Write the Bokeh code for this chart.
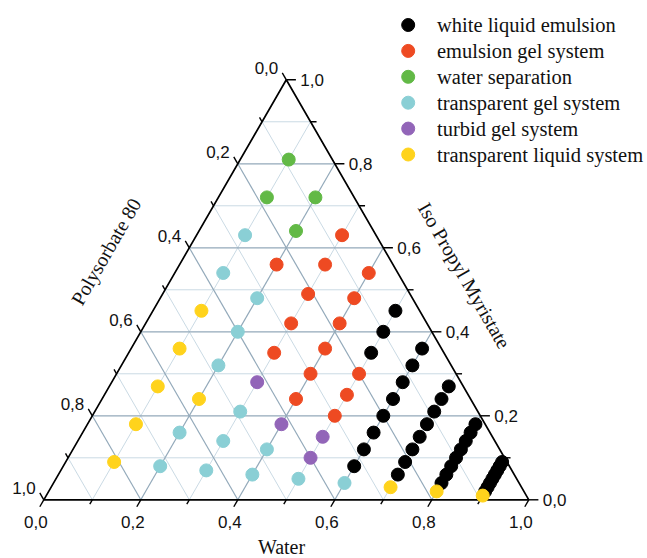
import math
from bokeh.plotting import figure
from bokeh.models import Range1d
from bokeh.embed import file_html
from bokeh.resources import INLINE
from bokeh.core.properties import value

# ---------------- data (fractions; Polysorbate 80 = 1 - Water - IPM) ----------------
white_liquid_emulsion_water = [0.5, 0.5, 0.5,
                               0.6, 0.6, 0.6, 0.6, 0.6, 0.6, 0.6, 0.6,
                               0.7, 0.7, 0.7, 0.7, 0.7, 0.7, 0.7, 0.7,
                               0.8, 0.8, 0.8, 0.8, 0.8, 0.8, 0.8, 0.8,
                               0.9, 0.9, 0.9, 0.9, 0.9, 0.9, 0.9, 0.9]
white_liquid_emulsion_ipm = [0.35, 0.40, 0.45,
                             0.08, 0.12, 0.16, 0.20, 0.24, 0.28, 0.32, 0.36,
                             0.06, 0.09, 0.12, 0.15, 0.18, 0.21, 0.24, 0.27,
                             0.04, 0.06, 0.08, 0.10, 0.12, 0.14, 0.16, 0.18,
                             0.02, 0.03, 0.04, 0.05, 0.06, 0.07, 0.08, 0.09]

emulsion_gel_water = [0.2,
                      0.3, 0.3, 0.3, 0.3, 0.3,
                      0.4, 0.4, 0.4, 0.4, 0.4, 0.4,
                      0.5, 0.5, 0.5]
emulsion_gel_ipm = [0.56,
                    0.35, 0.42, 0.49, 0.56, 0.63,
                    0.24, 0.30, 0.36, 0.42, 0.48, 0.54,
                    0.20, 0.25, 0.30]

water_separation_water = [0.1, 0.1, 0.2, 0.2]
water_separation_ipm = [0.72, 0.81, 0.64, 0.72]

transparent_gel_water = [0.1, 0.1, 0.2, 0.2, 0.2, 0.2, 0.2, 0.3, 0.3, 0.3, 0.4, 0.4, 0.5, 0.6]
transparent_gel_ipm = [0.54, 0.63, 0.08, 0.16, 0.32, 0.40, 0.48, 0.07, 0.14, 0.21, 0.06, 0.12, 0.05, 0.04]

turbid_gel_water = [0.3, 0.4, 0.5, 0.5]
turbid_gel_ipm = [0.28, 0.18, 0.10, 0.15]

transparent_liquid_water = [0.1, 0.1, 0.1, 0.1, 0.1, 0.2, 0.7, 0.8, 0.9]
transparent_liquid_ipm = [0.09, 0.18, 0.27, 0.36, 0.45, 0.24, 0.03, 0.02, 0.01]

series_names = ["white liquid emulsion", "emulsion gel system", "water separation",
                "transparent gel system", "turbid gel system", "transparent liquid system"]
series_colors = ["#000000", "#EE4A22", "#62B946", "#8ACFD5", "#9265B8", "#FFD31C"]
series_water = [white_liquid_emulsion_water, emulsion_gel_water, water_separation_water,
                transparent_gel_water, turbid_gel_water, transparent_liquid_water]
series_ipm = [white_liquid_emulsion_ipm, emulsion_gel_ipm, water_separation_ipm,
              transparent_gel_ipm, turbid_gel_ipm, transparent_liquid_ipm]

major_ticks = [0.0, 0.2, 0.4, 0.6, 0.8, 1.0]
tick_labels = ["0,0", "0,2", "0,4", "0,6", "0,8", "1,0"]
minor_ticks = [0.1, 0.3, 0.5, 0.7, 0.9]
grid_values = [0.1, 0.2, 0.3, 0.4, 0.5, 0.6, 0.7, 0.8, 0.9]

# ---------------- geometry ----------------
S3 = math.sqrt(3) / 2
PX = 485.0  # pixels per unit side
X0, Y0 = 43.3, 499.3  # pixel position of the bottom-left corner
W, H = 647, 558


def tern(w, o):
    return w + o / 2.0, o * S3


def px(n):
    return n / PX


def ref(xp, yp):
    # page pixel -> data coordinates (layout helper)
    return (xp - X0) / PX, (Y0 - yp) / PX


p = figure(width=W, height=H, output_backend="svg", toolbar_location=None,
           x_range=Range1d(-X0 / PX, (W - X0) / PX), y_range=Range1d((Y0 - H) / PX, Y0 / PX),
           x_axis_location=None, y_axis_location=None, min_border=0,
           background_fill_color="white", border_fill_color="white")
p.outline_line_color = None
p.xgrid.visible = False
p.ygrid.visible = False

# grid lines
for major in (False, True):
    xs, ys = [], []
    for v in grid_values:
        is_major = round(v * 10) % 2 == 0
        if is_major != major:
            continue
        for (a, b) in [((v, 0.0), (v, 1 - v)),        # constant water
                       ((0.0, v), (1 - v, v)),        # constant IPM
                       ((0.0, 1 - v), (1 - v, 0.0))]:  # constant polysorbate
            x0, y0 = tern(*a)
            x1, y1 = tern(*b)
            xs.append([x0, x1])
            ys.append([y0, y1])
    p.multi_line(xs, ys, line_color="#93a9ba" if major else "#cadae4",
                 line_width=1.2 if major else 1.0)

# triangle outline
tx = [tern(0, 0)[0], tern(1, 0)[0], tern(0, 1)[0], tern(0, 0)[0]]
ty = [tern(0, 0)[1], tern(1, 0)[1], tern(0, 1)[1], tern(0, 0)[1]]
p.line(tx, ty, line_color="black", line_width=1.7)

# ticks
txs, tys = [], []
for vals, L in ((major_ticks, px(8)), (minor_ticks, px(5))):
    for v in vals:
        # bottom: water
        x0, y0 = tern(v, 0)
        txs.append([x0, x0 - 0.5 * L]); tys.append([y0, y0 - S3 * L])
        # right: IPM
        x0, y0 = tern(1 - v, v)
        txs.append([x0, x0 + L * 1.2]); tys.append([y0, y0])
        # left: polysorbate
        x0, y0 = tern(0, 1 - v)
        txs.append([x0, x0 - 0.5 * L]); tys.append([y0, y0 + S3 * L])
p.multi_line(txs, tys, line_color="black", line_width=1.4)

# data points
for name, col, ws, os_ in zip(series_names, series_colors, series_water, series_ipm):
    xy = [tern(w, o) for w, o in zip(ws, os_)]
    p.scatter([a for a, b in xy], [b for a, b in xy], size=13, marker="circle",
              fill_color=col, line_color=col)

# tick labels
font_sans = value("Liberation Sans")
fs = value("17px")
bx, by, rx, ry, lx, ly = [], [], [], [], [], []
for v in major_ticks:
    x0, y0 = tern(v, 0)
    bx.append(x0 - px(8)); by.append(y0 - px(22))
    x0, y0 = tern(1 - v, v)
    rx.append(x0 + px(14)); ry.append(y0)
    x0, y0 = tern(0, 1 - v)
    lx.append(x0 - px(8)); ly.append(y0 + px(12))
p.text(bx, by, text=tick_labels, text_font=font_sans, text_font_size=fs,
       text_align="center", text_baseline="middle", text_color="#111111")
p.text(rx, ry, text=tick_labels, text_font=font_sans, text_font_size=fs,
       text_align="left", text_baseline="middle", text_color="#111111")
p.text(lx, ly, text=tick_labels, text_font=font_sans, text_font_size=fs,
       text_align="right", text_baseline="middle", text_color="#111111")

# axis titles
font_serif = value("Liberation Serif")
wx, wy = ref(281, 546)
p.text([wx], [wy], text=["Water"], text_font=font_serif, text_font_size=value("20px"),
       text_align="center", text_baseline="middle", text_color="#111111")
ax, ay = ref(105.5, 251)
p.text([ax], [ay], text=["Polysorbate 80"], angle=math.pi / 3, text_font=font_serif,
       text_font_size=value("20px"), text_align="center", text_baseline="middle",
       text_color="#111111")
ix, iy = ref(464, 275)
p.text([ix], [iy], text=["Iso Propyl Myristate"], angle=-math.pi / 3, text_font=font_serif,
       text_font_size=value("20px"), text_align="center", text_baseline="middle",
       text_color="#111111")

# legend (manual)
lgx, lgy, ltx = [], [], []
for i in range(len(series_names)):
    mx, my = ref(407.7, 24.5 + 25.9 * i)
    lgx.append(mx); lgy.append(my)
    ltx.append(ref(436.5, 24.5 + 25.9 * i)[0])
p.scatter(lgx, lgy, size=13, marker="circle", fill_color=series_colors, line_color=series_colors)
p.text(ltx, lgy, text=series_names, text_font=font_serif, text_font_size=value("20.5px"),
       text_align="left", text_baseline="middle", text_color="#111111")

open("out.html", "w").write(file_html(p, INLINE))
